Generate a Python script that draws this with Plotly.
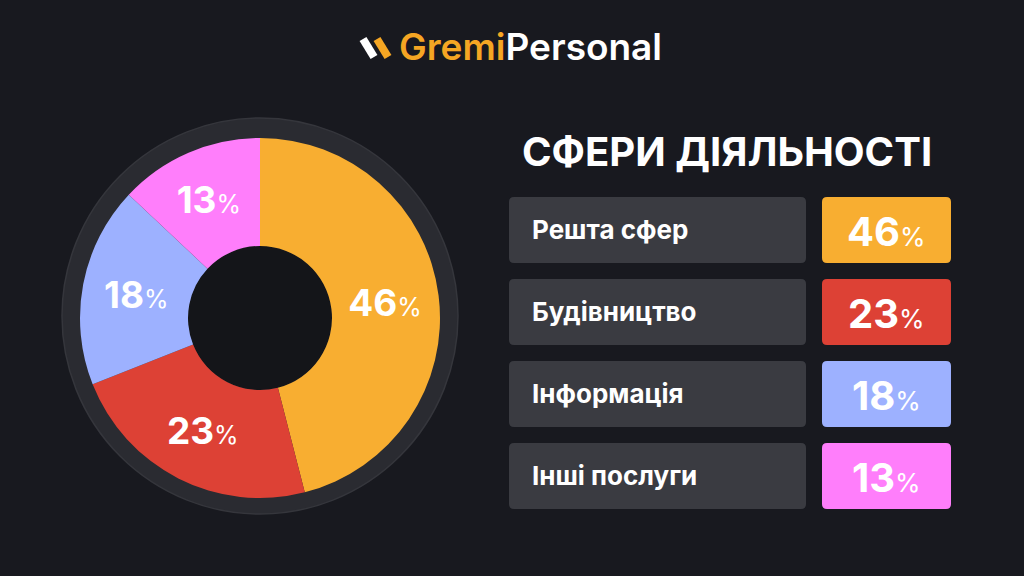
import plotly.graph_objects as go

# ---- data ----
categories = ["Решта сфер", "Будівництво", "Інформація", "Інші послуги"]
values = [46, 23, 18, 13]
colors = ["#f8ae31", "#dd4135", "#9db1ff", "#ff7efb"]
title_text = "СФЕРИ ДІЯЛЬНОСТІ"

W, H = 1024, 576
BG = "#18191f"
FONT = "Inter"


def px(x):
    return x / W


def py(y):
    return 1 - y / H


def rounded_rect(x0, y0, x1, y1, r):
    # pixel coords (y down) -> paper path
    X = lambda v: "%.5f" % px(v)
    Y = lambda v: "%.5f" % py(v)
    return ("M %s,%s L %s,%s Q %s,%s %s,%s L %s,%s Q %s,%s %s,%s "
            "L %s,%s Q %s,%s %s,%s L %s,%s Q %s,%s %s,%s Z") % (
        X(x0 + r), Y(y0), X(x1 - r), Y(y0), X(x1), Y(y0), X(x1), Y(y0 + r),
        X(x1), Y(y1 - r), X(x1), Y(y1), X(x1 - r), Y(y1),
        X(x0 + r), Y(y1), X(x0), Y(y1), X(x0), Y(y1 - r),
        X(x0), Y(y0 + r), X(x0), Y(y0), X(x0 + r), Y(y0))


fig = go.Figure()

fig.add_trace(go.Pie(
    labels=categories,
    values=values,
    marker=dict(colors=colors, line=dict(width=0)),
    sort=False,
    direction="clockwise",
    rotation=0,
    hole=0.4,
    textinfo="text",
    texttemplate="<b>%{value}</b><span style='font-size:25px'>%</span>",
    textposition="inside",
    insidetextorientation="horizontal",
    textfont=dict(family=FONT, size=37, color="white"),
    domain=dict(x=[px(80), px(440)], y=[py(498), py(138)]),
    showlegend=False,
    hoverinfo="label+percent",
))

shapes = []
# outer ring behind donut
shapes.append(dict(type="circle", xref="paper", yref="paper", layer="below",
                   x0=px(62), x1=px(458), y0=py(514), y1=py(118),
                   fillcolor="#2a2b31", line=dict(color="#35363c", width=1.5)))
# dark hole
shapes.append(dict(type="circle", xref="paper", yref="paper", layer="below",
                   x0=px(188), x1=px(332), y0=py(390), y1=py(246),
                   fillcolor="#141519", line=dict(width=0)))

annotations = []
# logo icon strokes
shapes.append(dict(type="line", xref="paper", yref="paper",
                   x0=px(363), y0=py(39), x1=px(374), y1=py(57),
                   line=dict(color="white", width=8)))
shapes.append(dict(type="line", xref="paper", yref="paper",
                   x0=px(377), y0=py(39), x1=px(388), y1=py(57),
                   line=dict(color="#f5a623", width=8)))
annotations.append(dict(
    xref="paper", yref="paper", x=px(397), y=py(47), xanchor="left", yanchor="middle",
    showarrow=False,
    text="<span style='color:#f5a623'>Gremi</span><span style='color:white'>Personal</span>",
    font=dict(family=FONT, size=37, color="white", weight=600),
))

# title
annotations.append(dict(
    xref="paper", yref="paper", x=px(727), y=py(152), xanchor="center", yanchor="middle",
    showarrow=False, text="<b>" + title_text + "</b>",
    font=dict(family=FONT, size=40, color="white"),
))

# table rows
row_top0, row_h, row_gap = 197, 66, 16
for i, (cat, val, col) in enumerate(zip(categories, values, colors)):
    y0 = row_top0 + i * (row_h + row_gap)
    y1 = y0 + row_h
    shapes.append(dict(type="path", xref="paper", yref="paper", layer="below",
                       path=rounded_rect(509, y0, 806, y1, 5),
                       fillcolor="#3a3b41", line=dict(width=0)))
    shapes.append(dict(type="path", xref="paper", yref="paper", layer="below",
                       path=rounded_rect(822, y0, 951, y1, 5),
                       fillcolor=col, line=dict(width=0)))
    annotations.append(dict(
        xref="paper", yref="paper", x=px(530), y=py((y0 + y1) / 2 - 1),
        xanchor="left", yanchor="middle", showarrow=False,
        text="<b>" + cat + "</b>",
        font=dict(family=FONT, size=26, color="white"),
    ))
    annotations.append(dict(
        xref="paper", yref="paper", x=px(886), y=py((y0 + y1) / 2 + 1),
        xanchor="center", yanchor="middle", showarrow=False,
        text="<b>%d</b><span style='font-size:26px'>%%</span>" % val,
        font=dict(family=FONT, size=40, color="white"),
    ))

fig.update_layout(
    width=W, height=H,
    margin=dict(l=0, r=0, t=0, b=0),
    paper_bgcolor=BG, plot_bgcolor=BG,
    shapes=shapes, annotations=annotations,
    showlegend=False,
)

fig.write_html("out.html")
